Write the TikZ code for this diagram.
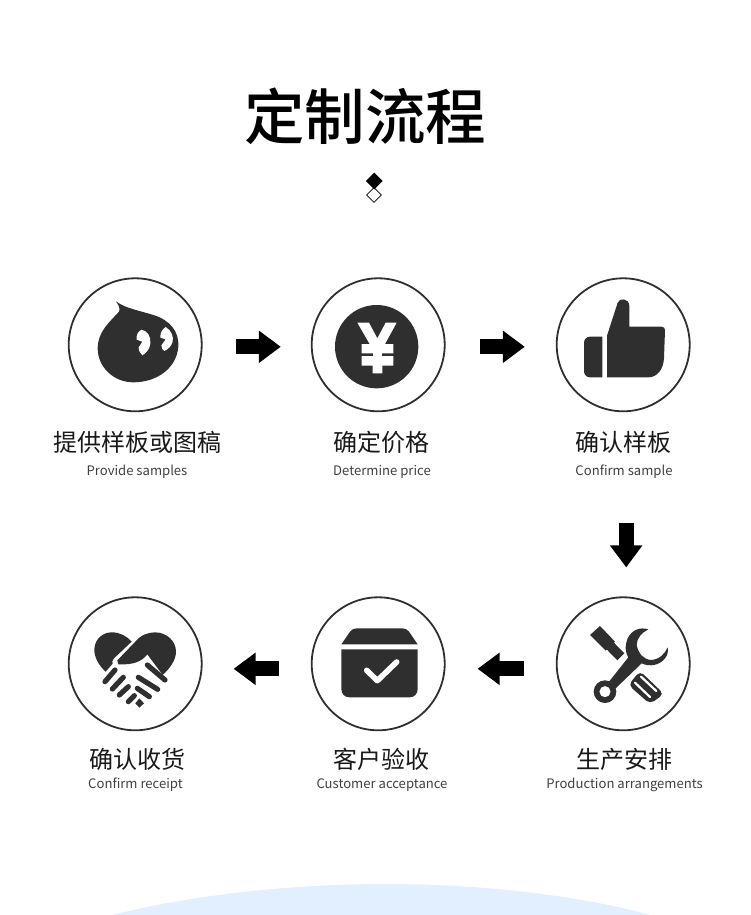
\documentclass[tikz,border=0pt]{standalone}
\usepackage{fontspec}
\setmainfont{Noto Sans CJK SC}
\newfontfamily\titlefont{Noto Sans CJK SC Medium}
\usetikzlibrary{arrows.meta,shapes.geometric}
\definecolor{icondark}{HTML}{2F2F2F}
\definecolor{wavebg}{HTML}{E1EFFE}
\tikzset{
  ring/.style={circle, draw=icondark, line width=1.8pt, minimum size=133pt, inner sep=0pt},
  cnlabel/.style={inner sep=0pt, text=black!90, font=\fontsize{24}{24}\selectfont},
  enlabel/.style={inner sep=0pt, text=black!75, font=\fontsize{13.1}{14}\selectfont},
  bigarrow/.style={line width=15pt, black, -{Triangle[length=22pt,width=31pt]}},
  fingerline/.style={icondark, line width=5.2pt, line cap=round},
}
\begin{document}
\begin{tikzpicture}[x=1pt,y=-1pt]
\useasboundingbox (0,0) rectangle (750,915);
% bottom shape:
\fill[wavebg] (112,915) .. controls (200,893) and (300,884) .. (385,884) .. controls (470,884) and (570,893) .. (650,915) -- cycle;
% heading:
\node[inner sep=0pt, font=\fontsize{60.5}{60}\titlefont] (title) at (365,116) {定制流程};
\node[diamond, draw=black, line width=.8pt, minimum size=15pt, inner sep=0pt] (lowmark) at (374,195) {};
\node[diamond, fill=black, minimum size=17pt, inner sep=0pt] (topmark) at (374.3,181) {};
% upper row:
\node[ring] (samples) at (135.2,344.8) {};
\node[ring] (price) at (378.2,344.8) {};
\node[ring] (confirm) at (623.2,344.8) {};
\node[cnlabel] (samplescn) at (137,442) {提供样板或图稿};
\node[enlabel] (samplesen) at (137,471.5) {Provide samples};
\node[cnlabel] (pricecn) at (381.5,442) {确定价格};
\node[enlabel] (priceen) at (382,471.5) {Determine price};
\node[cnlabel] (confirmcn) at (623.5,442) {确认样板};
\node[enlabel] (confirmen) at (624,471.5) {Confirm sample};
% lower row:
\node[ring] (receipt) at (135.2,663.8) {};
\node[ring] (accept) at (378.2,663.8) {};
\node[ring] (produce) at (623.2,663.8) {};
\node[cnlabel] (receiptcn) at (137,759) {确认收货};
\node[enlabel] (receipten) at (135.5,785) {Confirm receipt};
\node[cnlabel] (acceptcn) at (381.5,759) {客户验收};
\node[enlabel] (accepten) at (382,785) {Customer acceptance};
\node[cnlabel] (producecn) at (624,759) {生产安排};
\node[enlabel] (produceen) at (624.5,785) {Production arrangements};
% arrows:
\draw[bigarrow, transform canvas={yshift=-2pt}, shorten <=33pt, shorten >=30pt] (samples) -- (price);
\draw[bigarrow, transform canvas={yshift=-2pt}, shorten <=34pt, shorten >=31pt] (price) -- (confirm);
\draw[bigarrow, transform canvas={xshift=3pt}, shorten <=111pt, shorten >=29pt] (confirm) -- (produce);
\draw[bigarrow, transform canvas={yshift=-5pt}, shorten <=32pt, shorten >=32pt] (produce) -- (accept);
\draw[bigarrow, transform canvas={yshift=-5pt}, shorten <=32pt, shorten >=31pt] (accept) -- (receipt);
% blob icon:
\begin{scope}[shift={(50,260)},scale=1/3]
\fill[icondark] (198,124) .. controls (225,145) and (270,152) .. (310,165) .. controls (360,180) and (388,215) .. (385,260) .. controls (380,325) and (320,367) .. (250,367) .. controls (190,367) and (143,320) .. (143,265) .. controls (143,215) and (180,185) .. (207,155) .. controls (212,145) and (205,135) .. (198,124) -- cycle;
\end{scope}
\begin{scope}[shift={(125,320)},scale=1/3]
\fill[white] (50,29) .. controls (68,33) and (78,50) .. (76,70) .. controls (74,86) and (66,98) .. (52,106) .. controls (46,100) and (41,93) .. (41,82) -- (52,65) -- (35,59) .. controls (33,45) and (40,33) .. (50,29) -- cycle;
\fill[white] (122,21) .. controls (140,32) and (146,50) .. (143,65) .. controls (139,80) and (128,88) .. (118,93) .. controls (113,90) and (110,85) .. (109,76) -- (122,58) -- (106,53) .. controls (105,38) and (112,28) .. (122,21) -- cycle;
\end{scope}
% yen icon:
\begin{scope}[shift={(300,270)},scale=1/3]
\fill[icondark] (230,230) circle[radius=125];
\fill[white] (172,158) -- (207,158) -- (232,205) -- (257,158) -- (290,158) -- (255,222) -- (280,222) -- (280,250) -- (185,250) -- (185,222) -- (209,222) -- cycle;
\fill[white] (185,258) -- (280,258) -- (280,287) -- (247,287) -- (247,310) -- (218,310) -- (218,287) -- (185,287) -- cycle;
\fill[white] (218,248) rectangle (247,260);
\end{scope}
% thumb icon:
\begin{scope}[shift={(540,270)},scale=1/3]
\fill[icondark] (187,200) -- (150,200) .. controls (140,200) and (132,208) .. (132,218) -- (132,304) .. controls (132,314) and (140,322) .. (150,322) -- (187,322) -- cycle;
\fill[icondark] (201,322) -- (201,197) -- (233,98) .. controls (238,82) and (268,85) .. (268,108) -- (268,170) -- (365,170) .. controls (372,170) and (375,175) .. (375,180) -- (372,265) .. controls (370,300) and (350,322) .. (325,322) -- cycle;
\end{scope}
% box icon:
\begin{scope}[shift={(300,590)},scale=1/3]
\fill[icondark] (124,163) -- (150,125) .. controls (155,118) and (162,115) .. (170,115) -- (307,115) .. controls (315,115) and (322,118) .. (327,125) -- (353,163) -- cycle;
\fill[icondark] (124,178) -- (353,178) -- (353,297) .. controls (353,312) and (343,322) .. (328,322) -- (149,322) .. controls (134,322) and (124,312) .. (124,297) -- cycle;
\draw[white, line width=5.6pt, line cap=round, line join=round] (200,241) -- (232,272) -- (290,216);
\end{scope}
% tools icon:
\begin{scope}[shift={(585,620)},scale=1/3]
\fill[icondark] (15,45) -- (45,18) -- (90,65) -- (62,92) -- cycle;
\fill[icondark] (62,85) -- (83,64) -- (118,100) -- (97,121) -- cycle;
\fill[icondark, rounded corners=5pt] (130,195) -- (165,153) -- (237,222) -- (195,252) -- cycle;
\draw[white, line width=2.2pt, line cap=round] (150,188) -- (195,231);
\draw[white, line width=2.2pt, line cap=round] (168,170) -- (214,213);
\fill[icondark, even odd rule] (60,215) circle[radius=34] (60,215) circle[radius=17];
\fill[icondark] (190,28) .. controls (165,20) and (140,30) .. (128,55) .. controls (118,80) and (122,100) .. (130,112) -- (72,185) -- (92,205) -- (170,130) .. controls (195,142) and (225,135) .. (240,115) .. controls (248,105) and (250,95) .. (248,82) .. controls (240,100) and (225,118) .. (198,120) .. controls (175,118) and (160,100) .. (155,75) .. controls (155,55) and (170,38) .. (190,28) -- cycle;
\end{scope}
% handshake icon:
\begin{scope}[shift={(90,625)},scale=1/3]
\fill[icondark] (47,140) .. controls (25,120) and (12,95) .. (13,72) .. controls (15,40) and (40,22) .. (65,22) .. controls (90,22) and (110,33) .. (125,50) -- (72,100) .. controls (66,106) and (66,112) .. (68,116) -- cycle;
\fill[icondark] (82,106) -- (136,50) .. controls (152,30) and (175,22) .. (195,22) .. controls (230,22) and (258,48) .. (258,80) .. controls (258,105) and (240,130) .. (218,150) -- (172,88) .. controls (155,110) and (130,120) .. (85,118) -- cycle;
\draw[fingerline] (45,170) -- (75,135);
\draw[fingerline] (67,192) -- (100,157);
\draw[fingerline] (88,210) -- (115,185);
\draw[fingerline] (115,230) -- (133,212);
\draw[fingerline] (172,120) -- (225,165);
\draw[fingerline] (145,157) -- (203,193);
\draw[fingerline] (142,190) -- (178,215);
\fill[icondark] (148,220) -- (162,235) -- (148,248) -- (136,235) -- cycle;
\end{scope}
\end{tikzpicture}
\end{document}
